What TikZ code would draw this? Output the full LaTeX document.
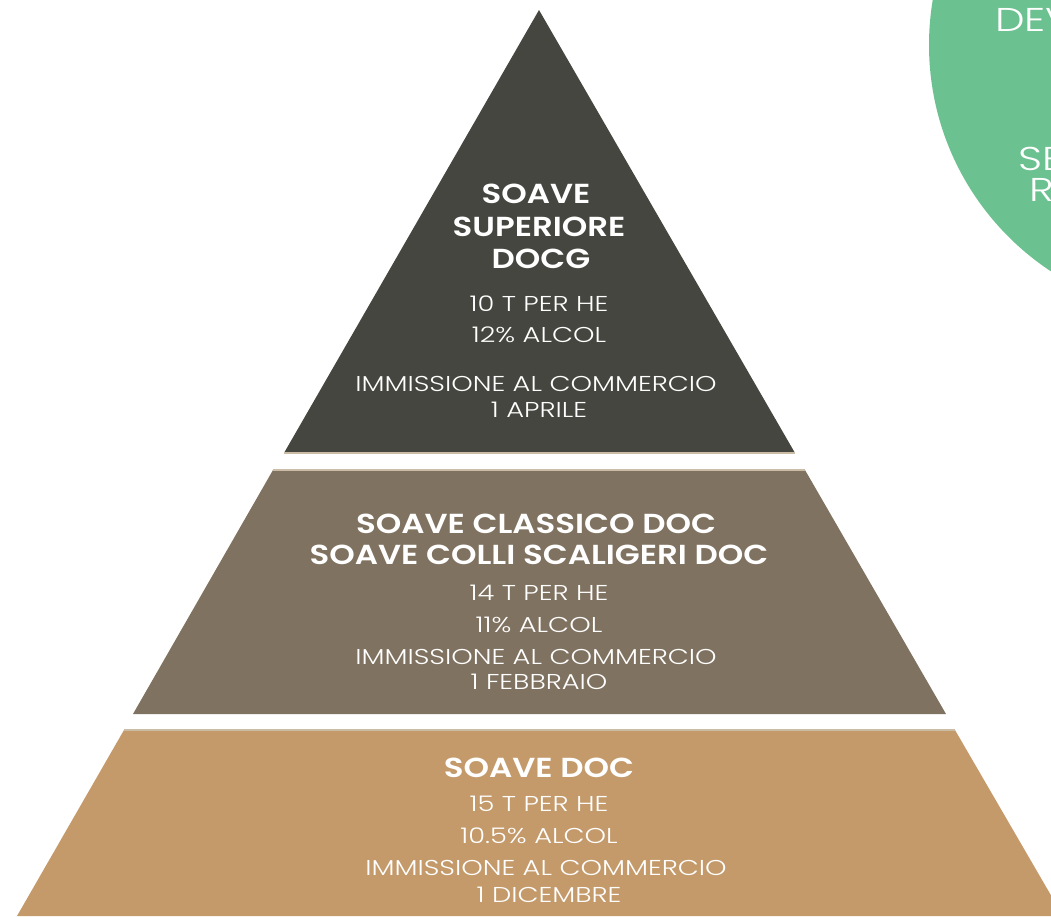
\documentclass[tikz,border=0pt]{standalone}
\usepackage{fontspec}
\setmainfont{Poppins}[UprightFont=* Light, BoldFont=* SemiBold]
\newfontfamily\infofont{Poppins Light}[FakeStretch=1.27]
\newfontfamily\headfont{Poppins SemiBold}[FakeStretch=1.18]
\definecolor{tierdark}{HTML}{45463F}
\definecolor{tiermid}{HTML}{807260}
\definecolor{tierlow}{HTML}{C49A6B}
\definecolor{circgreen}{HTML}{6CC190}
\definecolor{sepline}{HTML}{CBBCA6}
\tikzset{
  head/.style={text=white, anchor=base, inner sep=0pt, font=\headfont\fontsize{27.5}{30}\selectfont},
  info/.style={text=white, anchor=base, inner sep=0pt, font=\infofont\fontsize{21.5}{24}\selectfont},
  circtext/.style={text=white, anchor=base west, inner sep=0pt, font=\infofont\fontsize{33}{36}\selectfont},
  sep/.style={draw=sepline, line width=1.5pt}
}
\begin{document}
\begin{tikzpicture}[x=1pt,y=-1pt]
\useasboundingbox (0,0) rectangle (1051,916);
\begin{scope}
\clip (0,0) rectangle (1051,916);
% green circle
\fill[circgreen] (1200,45) circle (271);
\node[circtext] (c1) at (995,31) {DEV};
\node[circtext] (c2) at (1018,170) {SE};
\node[circtext] (c3) at (1029,201) {R};
% tiers
\fill[tierdark] (539,10) -- (795,453) -- (284,453) -- cycle;
\draw[sep] (284,453) -- (795,453);
\fill[tiermid] (273,470) -- (805,470) -- (946,714) -- (133,714) -- cycle;
\draw[sep] (273,470) -- (805,470);
\fill[tierlow] (124,730) -- (955,730) -- (1063,916) -- (17,916) -- cycle;
\draw[sep] (124,730) -- (955,730);
\end{scope}
% top tier texts
\node[head] (t1) at (536,203) {SOAVE};
\node[head] (t2) at (539,236) {SUPERIORE};
\node[head] (t3) at (541,268) {DOCG};
\node[info] (t4) at (539,311) {10 T PER HE};
\node[info] (t5) at (539,342) {12\% ALCOL};
\node[info] (t6) at (536,391) {IMMISSIONE AL COMMERCIO};
\node[info] (t7) at (539,417) {1 APRILE};
% middle tier texts
\node[head] (m1) at (536,533) {SOAVE CLASSICO DOC};
\node[head] (m2) at (539,564) {SOAVE COLLI SCALIGERI DOC};
\node[info] (m3) at (539,600) {14 T PER HE};
\node[info] (m4) at (539,632) {11\% ALCOL};
\node[info] (m5) at (536,664) {IMMISSIONE AL COMMERCIO};
\node[info] (m6) at (539,689) {1 FEBBRAIO};
% bottom tier texts
\node[head] (b1) at (539,777) {SOAVE DOC};
\node[info] (b2) at (539,811) {15 T PER HE};
\node[info] (b3) at (539,843) {10.5\% ALCOL};
\node[info] (b4) at (546,875) {IMMISSIONE AL COMMERCIO};
\node[info] (b5) at (549,902) {1 DICEMBRE};
\end{tikzpicture}
\end{document}
